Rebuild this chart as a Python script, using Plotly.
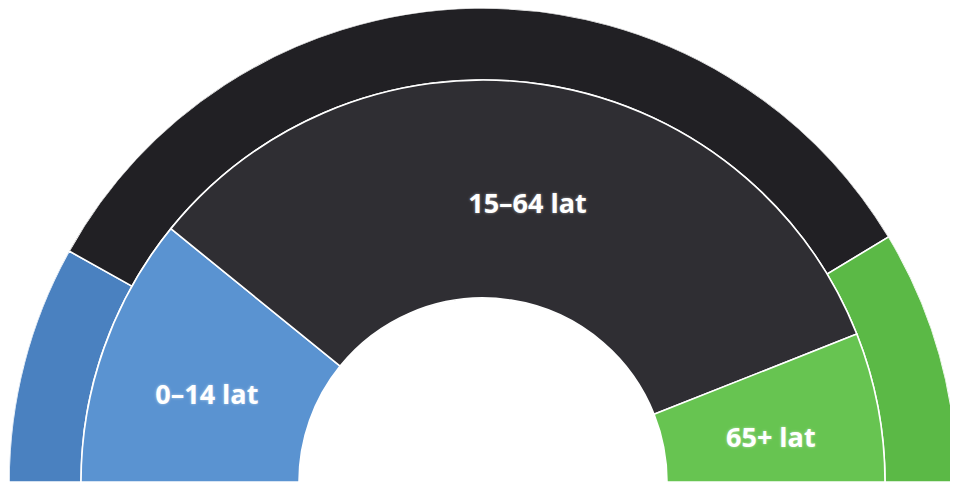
import plotly.graph_objects as go

# Data (percent shares)
categories = ["0–14 lat", "15–64 lat", "65+ lat"]
inner_values = [21.7, 66.3, 12.0]
outer_values = [16.2, 66.5, 17.3]

inner_colors = ["#5a93d1", "#2f2e33", "#67c451"]
outer_colors = ["#4a81c0", "#212024", "#5bb946"]

# ring geometry (radial axis units)
R_HOLE, R_MID, R_OUT = 184, 402, 474


def spans(values):
    total = sum(values)
    thetas, widths, acc = [], [], 0.0
    for v in values:
        w = v / total * 180.0
        thetas.append(acc + w / 2)
        widths.append(w)
        acc += w
    return thetas, widths


in_t, in_w = spans(inner_values)
out_t, out_w = spans(outer_values)

fig = go.Figure()
fig.add_trace(go.Barpolar(
    theta=out_t, width=out_w, r=[R_OUT - R_MID] * 3, base=R_MID,
    marker=dict(color=outer_colors, line=dict(color="white", width=1.6)),
    hoverinfo="skip", showlegend=False,
))
fig.add_trace(go.Barpolar(
    theta=in_t, width=in_w, r=[R_MID - R_HOLE] * 3, base=R_HOLE,
    marker=dict(color=inner_colors, line=dict(color="white", width=1.6)),
    hoverinfo="skip", showlegend=False,
))
fig.add_trace(go.Scatterpolar(
    theta=in_t, r=[(R_HOLE + R_MID) / 2] * 3, mode="text", text=categories,
    textposition="bottom center",
    textfont=dict(family="Open Sans", size=27, color="white", weight="bold",
                  shadow="0px 0px 3px rgba(255,255,255,0.5)"),
    hoverinfo="skip", showlegend=False,
))

fig.update_layout(
    width=958, height=482,
    margin=dict(l=1, r=9, t=0, b=8),
    paper_bgcolor="white", plot_bgcolor="white",
    polar=dict(
        domain=dict(x=[0, 1], y=[0, 1]),
        sector=[0, 180], hole=0, bgcolor="white",
        radialaxis=dict(range=[0, R_OUT], visible=False, showgrid=False),
        angularaxis=dict(visible=False, showgrid=False,
                         direction="clockwise", rotation=180, thetaunit="degrees"),
        barmode="overlay",
    ),
)

fig.write_html("out.html")
